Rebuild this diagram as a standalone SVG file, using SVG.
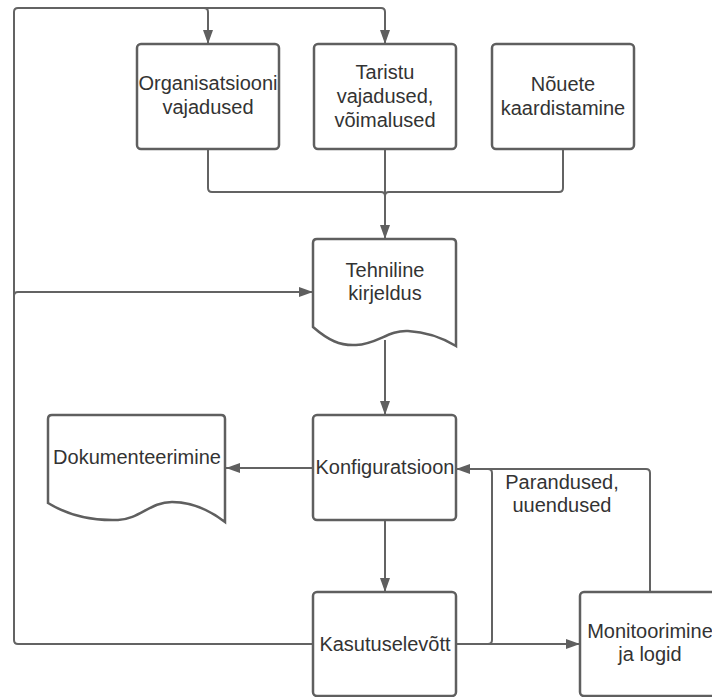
<svg xmlns="http://www.w3.org/2000/svg" width="712" height="697" viewBox="0 0 712 697">
<defs>
<marker id="arr" viewBox="0 0 14 10" refX="14" refY="5" markerWidth="14" markerHeight="10" markerUnits="userSpaceOnUse" orient="auto">
<path d="M0,0 L14,5 L0,10 Z" fill="#5f5f5f"/>
</marker>
<style>
.box{fill:#ffffff;stroke:#5f5f5f;stroke-width:2.5}
.ln{fill:none;stroke:#636363;stroke-width:2}
.t{font-family:"Liberation Sans",Arial,sans-serif;font-size:20px;fill:#333333;text-anchor:middle}
</style>
</defs>
<rect width="712" height="697" fill="#ffffff"/>
<g id="connectors">
<path class="ln" d="M313,644 H18 Q14,644 14,640 V12 Q14,8 18,8 H381 Q385,8 385,12 V44" marker-end="url(#arr)"/>
<path class="ln" d="M204,8 Q208,8 208,12 V44" marker-end="url(#arr)"/>
<path class="ln" d="M14,296 Q14,292 18,292 H313" marker-end="url(#arr)"/>
<path class="ln" d="M208,149 V188 Q208,192 212,192 H381 Q385,192 385,196"/>
<path class="ln" d="M563,149 V188 Q563,192 559,192 H389 Q385,192 385,196"/>
<path class="ln" d="M385,149 V239" marker-end="url(#arr)"/>
<path class="ln" d="M385,340 V415" marker-end="url(#arr)"/>
<path class="ln" d="M313,468 H226" marker-end="url(#arr)"/>
<path class="ln" d="M385,520 V592" marker-end="url(#arr)"/>
<path class="ln" d="M456,644 H580" marker-end="url(#arr)"/>
<path class="ln" d="M456,644 H488 Q492,644 492,640 V473 Q492,469 488,469"/>
<path class="ln" d="M650,592 V473 Q650,469 646,469 H456" marker-end="url(#arr)"/>
<text class="t" x="562" y="489">Parandused,</text>
<text class="t" x="562" y="512">uuendused</text>
</g>
<g id="org">
<rect class="box" x="137" y="44" width="142" height="105" rx="4"/>
<text class="t" x="208" y="90">Organisatsiooni</text>
<text class="t" x="208" y="114">vajadused</text>
</g>
<g id="taristu">
<rect class="box" x="314" y="44" width="142" height="105" rx="4"/>
<text class="t" x="385" y="79">Taristu</text>
<text class="t" x="385" y="103">vajadused,</text>
<text class="t" x="385" y="127">võimalused</text>
</g>
<g id="nouete">
<rect class="box" x="492" y="44" width="142" height="105" rx="4"/>
<text class="t" x="563" y="91">Nõuete</text>
<text class="t" x="563" y="115">kaardistamine</text>
</g>
<g id="tehniline">
<path class="box" d="M313,327 V243 Q313,239 317,239 H452 Q456,239 456,243 V346 C446,340 428,332 408,331 C388,330 378,344 356,345 C340,346 328,340 313,327 Z"/>
<text class="t" x="385" y="277">Tehniline</text>
<text class="t" x="385" y="300">kirjeldus</text>
</g>
<g id="dokumenteerimine">
<path class="box" d="M48,503 V419 Q48,415 52,415 H221 Q225,415 225,419 V522 C212,512 195,502 172,502 C150,502 140,519 118,520 C90,521 66,514 48,503 Z"/>
<text class="t" x="137" y="464">Dokumenteerimine</text>
</g>
<g id="konfiguratsioon">
<rect class="box" x="313" y="415" width="143" height="105" rx="4"/>
<text class="t" x="385" y="474">Konfiguratsioon</text>
</g>
<g id="kasutuselevott">
<rect class="box" x="313" y="592" width="143" height="104" rx="4"/>
<text class="t" x="385" y="651">Kasutuselevõtt</text>
</g>
<g id="monitoorimine">
<rect class="box" x="580" y="592" width="143" height="104" rx="4"/>
<text class="t" x="650" y="638">Monitoorimine</text>
<text class="t" x="650" y="661">ja logid</text>
</g>
</svg>
